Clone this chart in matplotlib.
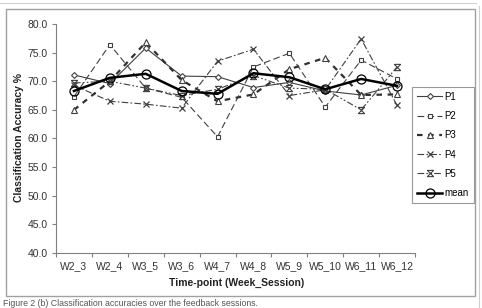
import matplotlib
matplotlib.use("Agg")
import matplotlib.pyplot as plt
from matplotlib.path import Path
from matplotlib.patches import Rectangle
from matplotlib.lines import Line2D

# data
sessions = ["W2_3", "W2_4", "W3_5", "W3_6", "W4_7", "W4_8", "W5_9", "W5_10", "W6_11", "W6_12"]
p1 = [71.1, 69.6, 75.8, 70.9, 70.8, 68.9, 69.8, 68.3, 67.6, 69.3]
p2 = [67.3, 76.4, 68.8, 67.2, 60.3, 72.5, 74.9, 65.5, 73.7, 70.4]
p3 = [65.0, 70.0, 76.8, 70.2, 66.5, 67.7, 72.1, 74.1, 67.6, 67.7]
p4 = [69.3, 66.5, 66.0, 65.3, 73.5, 75.6, 67.5, 68.5, 77.4, 65.8]
p5 = [69.7, 70.0, 68.8, 67.5, 68.6, 71.0, 68.8, 68.6, 65.0, 72.5]
mean = [68.3, 70.6, 71.3, 68.3, 67.8, 71.4, 70.7, 68.6, 70.4, 69.2]
yticks = [40, 45, 50, 55, 60, 65, 70, 75, 80]

plt.rcParams['font.family'] = ['Liberation Sans', 'DejaVu Sans']

W, H = 482, 308
fig = plt.figure(figsize=(W / 100, H / 100), dpi=100)

def fx(px):
    return px / W

def fy(py):
    return 1 - py / H

# chart-area frame and the outer light border
fig.patches.append(Rectangle((fx(6), fy(296)), fx(475) - fx(6), fy(9) - fy(296),
                             transform=fig.transFigure, fill=False,
                             edgecolor="#a0a0a0", lw=1.0))
fig.lines.append(Line2D([fx(0), fx(476)], [fy(3), fy(3)], transform=fig.transFigure,
                        color="#d0d0d0", lw=0.8))
fig.lines.append(Line2D([fx(479), fx(479)], [fy(6), fy(308)], transform=fig.transFigure,
                        color="#d0d0d0", lw=0.8))

ax = fig.add_axes([fx(56), fy(253), fx(415) - fx(56), fy(24) - fy(253)])

# x with bars top and bottom for P5
star = Path([(-1, -1), (1, 1), (-1, 1), (1, -1), (-1, 1), (1, 1), (-1, -1), (1, -1)],
            [Path.MOVETO, Path.LINETO, Path.MOVETO, Path.LINETO,
             Path.MOVETO, Path.LINETO, Path.MOVETO, Path.LINETO])

x = list(range(len(sessions)))
lc = "#404040"
ax.plot(x, p1, color=lc, lw=0.8, ls="-", marker="D", ms=3, mfc="white", mec=lc, mew=0.8, label="P1")
ax.plot(x, p2, color=lc, lw=0.8, ls=(0, (6, 3)), marker="s", ms=3.5, mfc="white", mec=lc, mew=0.8, label="P2")
ax.plot(x, p3, color="#303030", lw=1.6, ls=(0, (2.5, 2.5)), marker="^", ms=4, mfc="white", mec=lc, mew=0.8, label="P3")
ax.plot(x, p4, color=lc, lw=0.8, ls=(0, (6, 2, 1.5, 2)), marker="x", ms=5, mec=lc, mew=0.9, label="P4")
ax.plot(x, p5, color=lc, lw=0.8, ls=(0, (6, 2, 1.5, 2, 1.5, 2)), marker=star, ms=4.5, mec=lc, mew=0.8, label="P5")
ax.plot(x, mean, color="black", lw=1.8, ls="-", marker="o", ms=6.5, mfc="none", mec="black", mew=0.9, label="mean")

ax.set_xlim(-0.5, len(sessions) - 0.5)
ax.set_ylim(40, 80)
ax.set_yticks(yticks)
ax.set_yticklabels([f"{v:.1f}" for v in yticks], fontsize=7.5, color="#333333")
ax.set_xticks([i - 0.5 for i in range(len(sessions) + 1)])
ax.set_xticklabels([])
ax.set_xticks(x, minor=True)
ax.set_xticklabels(sessions, minor=True, fontsize=7.5, color="#333333")
ax.tick_params(axis="x", which="major", length=3, color="#808080", direction="out")
ax.tick_params(axis="x", which="minor", length=0, pad=6)
ax.tick_params(axis="y", length=3, color="#808080", direction="out", pad=3)

for s in ["top", "right"]:
    ax.spines[s].set_visible(False)
for s in ["left", "bottom"]:
    ax.spines[s].set_color("#808080")
    ax.spines[s].set_linewidth(0.8)

fig.text(fx(237), fy(283), "Time-point (Week_Session)", ha="center", va="center",
         fontsize=7.5, fontweight="bold", color="#222222")
fig.text(fx(19), fy(138), "Classification Accuracy %", ha="center", va="center",
         rotation=90, fontsize=7.5, fontweight="bold", color="#222222")

leg = ax.legend(loc="upper left", bbox_to_anchor=(fx(412), fy(87)), bbox_transform=fig.transFigure,
                fontsize=7, frameon=True, fancybox=False, handlelength=2.6,
                labelspacing=0.95, borderpad=0.5, handletextpad=0.25, borderaxespad=0)
leg.get_frame().set_edgecolor("#808080")
leg.get_frame().set_linewidth(0.8)

fig.text(fx(3), fy(304), "Figure 2 (b) Classification accuracies over the feedback sessions.",
         ha="left", va="center", fontsize=6.3, color="#555555")

fig.savefig("out.png", dpi=100)
